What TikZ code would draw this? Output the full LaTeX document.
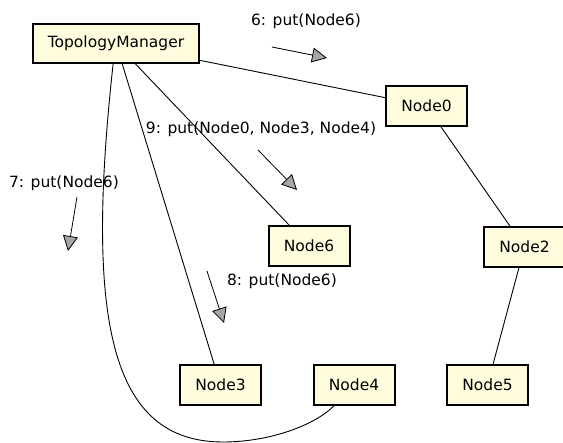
\documentclass[tikz,border=0pt]{standalone}
\usepackage{fontspec}
\setmainfont{DejaVu Sans}
\usepackage{tikz}
\usetikzlibrary{arrows.meta}

\begin{document}
\begin{tikzpicture}[x=1pt,y=-1pt,line width=0.9pt,
	obj/.style = {draw,line width=2pt,fill={rgb,255:red,255;green,253;blue,222},minimum width=81pt,minimum height=40pt,inner sep=0pt,font=\fontsize{15.5}{18}\selectfont},
	msg/.style = {-{Triangle[length=15pt,width=15pt,fill=gray!70]},line width=0.8pt},
	lbl/.style = {inner sep=0pt,font=\fontsize{15.5}{18}\selectfont}
	]
	\useasboundingbox (0,0) rectangle (563,443);
	%OGGETTI
	\node[obj,minimum width=166pt,minimum height=39pt] (tm) at (116,43.5) {TopologyManager};
	\node[obj] (n0) at (426.5,106) {Node0};
	\node[obj] (n6) at (309,246) {Node6};
	\node[obj] (n2) at (524.5,247) {Node2};
	\node[obj] (n3) at (220.5,385) {Node3};
	\node[obj] (n4) at (354,385) {Node4};
	\node[obj] (n5) at (487.5,385) {Node5};
	%COLLEGAMENTI
	\draw (tm) -- (n0);
	\draw (tm) -- (n6);
	\draw (tm) -- (n3);
	\draw (tm.262) .. controls (85,320) and (110,442) .. (223,442) .. controls (270,442) and (315,425) .. (n4.226);
	\draw (n0) -- (n2);
	\draw (n2) -- (n5);
	%MESSAGGI
	\coordinate (m6a) at (272,47);
	\coordinate (m6b) at (327,58);
	\draw[msg] (m6a) -- (m6b);
	\node[lbl] (t6) at (306,21) {6: put(Node6)};
	\coordinate (m9a) at (258,150);
	\coordinate (m9b) at (297,190);
	\draw[msg] (m9a) -- (m9b);
	\node[lbl] (t9) at (261,129) {9: put(Node0, Node3, Node4)};
	\coordinate (m7a) at (77,197);
	\coordinate (m7b) at (68,251);
	\draw[msg] (m7a) -- (m7b);
	\node[lbl] (t7) at (64,183) {7: put(Node6)};
	\coordinate (m8a) at (207,271);
	\coordinate (m8b) at (224,323);
	\draw[msg] (m8a) -- (m8b);
	\node[lbl] (t8) at (282,281) {8: put(Node6)};
\end{tikzpicture}
\end{document}
